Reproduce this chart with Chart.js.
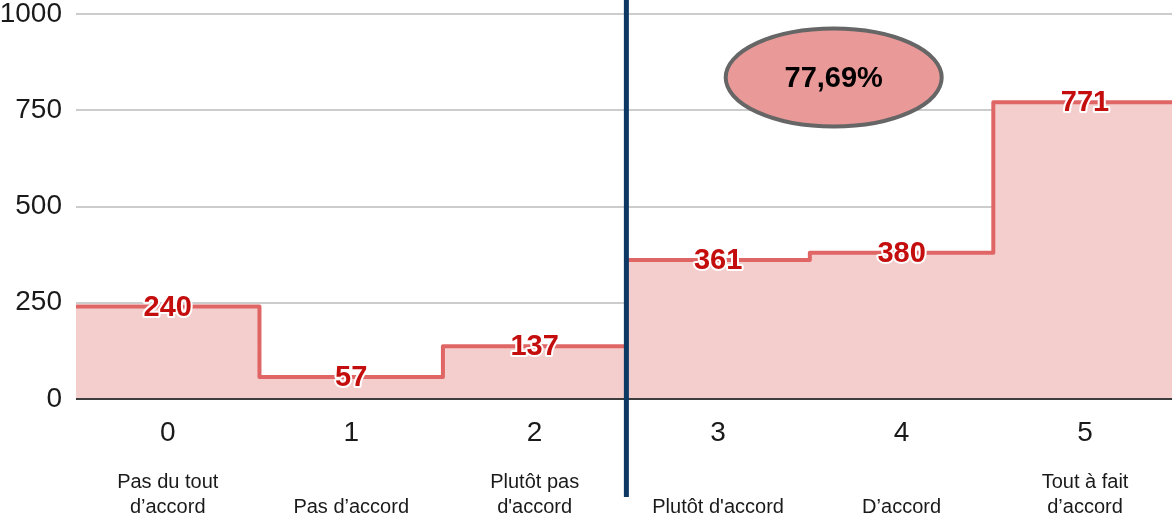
<!DOCTYPE html>
<html>
<head>
<meta charset="utf-8">
<script src="https://cdn.jsdelivr.net/npm/chart.js@4/dist/chart.umd.min.js"></script>
<style>
  html, body { margin: 0; padding: 0; background: #fff; }
  #wrap { width: 1172px; height: 520px; position: relative; }
</style>
</head>
<body>
<div id="wrap"><canvas id="chart"></canvas></div>
<script>
/* ---------- données ---------- */
const categories = [0, 1, 2, 3, 4, 5];
const counts = [240, 57, 137, 361, 380, 771];
const descriptions = [
  ["Pas du tout", "d’accord"],
  ["Pas d’accord"],
  ["Plutôt pas", "d'accord"],
  ["Plutôt d'accord"],
  ["D’accord"],
  ["Tout à fait", "d’accord"]
];
const yTicks = [0, 250, 500, 750, 1000];
const agreeShare = "77,69%";
const splitAt = 2.5;          // séparation désaccord / accord
const bubbleAt = { x: 3.63, y: 835 };

/* ---------- courbe en escalier bord à bord ---------- */
const stepPoints = [];
categories.forEach((c, i) => {
  stepPoints.push({ x: c - 0.5, y: counts[i] });
  stepPoints.push({ x: c + 0.5, y: counts[i] });
});

const FONT = "'Liberation Sans', Arial, sans-serif";

/* ---------- plugin : libellés, axe 0, séparation, bulle ---------- */
const overlay = {
  id: "overlay",
  afterDatasetsDraw(chart) {
    const { ctx, chartArea, scales: { x, y } } = chart;

    // axe du zéro
    ctx.save();
    ctx.strokeStyle = "#3d3d3d";
    ctx.lineWidth = 2;
    ctx.beginPath();
    ctx.moveTo(chartArea.left, y.getPixelForValue(0));
    ctx.lineTo(chartArea.right, y.getPixelForValue(0));
    ctx.stroke();

    // valeurs
    ctx.font = "bold 29px " + FONT;
    ctx.textAlign = "center";
    ctx.textBaseline = "middle";
    ctx.lineJoin = "round";
    categories.forEach((c, i) => {
      const px = x.getPixelForValue(c);
      const py = y.getPixelForValue(counts[i]) + 1;
      ctx.strokeStyle = "#fff";
      ctx.lineWidth = 4;
      ctx.strokeText(counts[i], px, py);
      ctx.fillStyle = "#c40d0d";
      ctx.fillText(counts[i], px, py);
    });

    // descriptions sous l'axe
    ctx.font = "20px " + FONT;
    ctx.fillStyle = "#1a1a1a";
    categories.forEach((c, i) => {
      const lines = descriptions[i];
      const px = x.getPixelForValue(c);
      lines.forEach((t, k) => {
        ctx.fillText(t, px, 507 - (lines.length - 1 - k) * 25);
      });
    });

    // bulle
    const bx = x.getPixelForValue(bubbleAt.x);
    const by = y.getPixelForValue(bubbleAt.y);
    ctx.beginPath();
    ctx.ellipse(bx, by, 108, 49, 0, 0, Math.PI * 2);
    ctx.fillStyle = "#ea9999";
    ctx.fill();
    ctx.strokeStyle = "#666";
    ctx.lineWidth = 4;
    ctx.stroke();
    ctx.fillStyle = "#000";
    ctx.font = "bold 29px " + FONT;
    ctx.fillText(agreeShare, bx, by + 1);

    // ligne de séparation
    const sx = x.getPixelForValue(splitAt);
    ctx.strokeStyle = "#0c3863";
    ctx.lineWidth = 5;
    ctx.beginPath();
    ctx.moveTo(sx, 0);
    ctx.lineTo(sx, 497);
    ctx.stroke();
    ctx.restore();
  }
};

new Chart(document.getElementById("chart"), {
  type: "line",
  data: {
    datasets: [{
      data: stepPoints,
      borderColor: "#e06666",
      borderWidth: 4,
      borderJoinStyle: "round",
      backgroundColor: "#f4cdcd",
      fill: "origin",
      pointRadius: 0,
      tension: 0
    }]
  },
  options: {
    responsive: true,
    maintainAspectRatio: false,
    animation: false,
    layout: { padding: { top: 14, right: 0, left: 0, bottom: 0 } },
    plugins: { legend: { display: false }, tooltip: { enabled: false } },
    scales: {
      x: {
        type: "linear",
        min: -0.5,
        max: 5.474,
        afterBuildTicks: s => { s.ticks = categories.map(v => ({ value: v })); },
        grid: { display: false, drawTicks: false },
        border: { display: false },
        ticks: { font: { size: 28, family: FONT }, color: "#1a1a1a", padding: 17, maxRotation: 0 },
        afterFit: s => { s.height = 121; s.paddingLeft = 0; s.paddingRight = 0; }
      },
      y: {
        min: 0,
        max: 1000,
        afterBuildTicks: s => { s.ticks = yTicks.map(v => ({ value: v })); },
        grid: { color: "#cccccc", lineWidth: 2, drawTicks: false },
        border: { display: false },
        ticks: { font: { size: 28, family: FONT }, color: "#1a1a1a", padding: 14, callback: v => String(v) },
        afterFit: s => { s.width = 76; s.paddingTop = 0; s.paddingBottom = 0; }
      }
    }
  },
  plugins: [overlay]
});
</script>
</body>
</html>
